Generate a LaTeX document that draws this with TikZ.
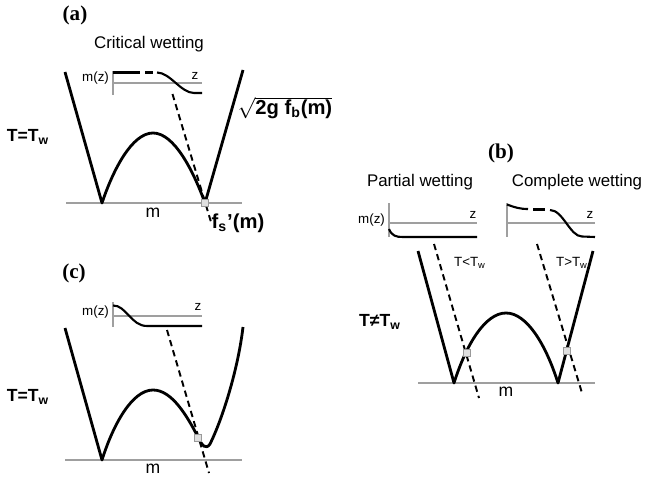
\documentclass[tikz,border=0pt]{standalone}
\usepackage{fontspec}
\setmainfont{Liberation Sans}
\newfontfamily\panelfont{Liberation Serif}
\usepackage{tikz}

\tikzset{
    potential/.style={line width=1.6pt, line join=round},
    tangent/.style={line width=1.1pt, dash pattern=on 3.6pt off 2.4pt},
    mline/.style={gray!75, line width=0.7pt},
    inaxis/.style={gray!75, line width=0.7pt},
    profile/.style={line width=1.2pt},
    contact/.style={draw=gray!80, fill=gray!25, line width=0.3pt, inner sep=0pt, minimum size=4.2pt},
    panellab/.style={font=\panelfont\bfseries\fontsize{12}{14}\selectfont},
    title/.style={font=\fontsize{9.6}{11}\selectfont},
    small/.style={font=\fontsize{7.6}{9}\selectfont, inner sep=1pt},
    temp/.style={font=\bfseries\fontsize{10}{12}\selectfont},
    big/.style={font=\bfseries\fontsize{11.5}{13}\selectfont},
    mlab/.style={font=\fontsize{10}{12}\selectfont},
}

\begin{document}
\begin{tikzpicture}[x=0.02cm, y=-0.02cm]

    \useasboundingbox (0,0) rectangle (649,483);

    % ---------------- (a) critical wetting ----------------
    \node[panellab] (lab-a) at (75,15) {(a)};
    \node[title] (title-a) at (149,44) {Critical wetting};
    \node[temp] (tw-a) at (28,137) {T=T\textsubscript{w}};

    % inset profile m(z)
    \draw[inaxis] (113,71) -- (113,95);
    \draw[inaxis] (113,83) -- (202,83);
    \node[small, left] (mz-a) at (111,78) {m(z)};
    \node[small] (z-a) at (195,76) {z};
    \draw[profile] (113,72.5) -- (140,72.5);
    \draw[profile] (145,72.5) -- (153,72.5);
    \draw[profile] (157,72.5) .. controls (170,72.5) and (181,93) .. (194,93) -- (202,93);

    % m axis
    \draw[mline] (66,203) -- (242,203);
    \node[mlab] (m-a) at (153,213) {m};

    % potential
    \draw[potential] (65,72) -- (102,203)
        .. controls (113,170) and (132,133) .. (153,133)
        .. controls (174,133) and (193,170) .. (205,203) -- (243,70);

    % tangent line and contact point
    \coordinate (ta-top) at (172.5,94);
    \coordinate (ta-bot) at (211,222);
    \draw[tangent] (ta-top) -- (ta-bot);
    \node[contact] (x-a) at (205,203) {};

    \node[big] (root-a) at (285,108) {$\sqrt{\mbox{2g f\textsubscript{b}(m)}}$};
    \node[big] (fs-a) at (238,223) {f\textsubscript{s}'(m)};

    % ---------------- (c) ----------------
    \node[panellab] (lab-c) at (74,273) {(c)};
    \node[temp] (tw-c) at (28,397) {T=T\textsubscript{w}};

    % inset profile m(z)
    \draw[inaxis] (113,302) -- (113,327);
    \draw[inaxis] (113,316) -- (202,316);
    \node[small, left] (mz-c) at (111,312) {m(z)};
    \node[small] (z-c) at (198,307) {z};
    \draw[profile] (113,305.5) .. controls (126,305) and (131,326) .. (147,326) -- (202,326);

    % m axis
    \draw[mline] (65,460) -- (242,460);
    \node[mlab] (m-c) at (153,469) {m};

    % potential
    \draw[potential] (65,328) -- (102,460)
        .. controls (113,425) and (132,390) .. (153,390)
        .. controls (172,390) and (187,416) .. (198,437)
        .. controls (202,446) and (206,450) .. (210,444)
        .. controls (222,420) and (238,370) .. (243,327);

    % tangent line and contact point
    \coordinate (tc-top) at (167,330);
    \coordinate (tc-bot) at (209,473);
    \draw[tangent] (tc-top) -- (tc-bot);
    \node[contact] (x-c) at (198,438) {};

    % ---------------- (b) ----------------
    \node[panellab] (lab-b) at (501,153) {(b)};
    \node[title] (title-bl) at (420,182) {Partial wetting};
    \node[title] (title-br) at (577,182) {Complete wetting};
    \node[temp] (tw-b) at (380,322) {T≠T\textsubscript{w}};

    % inset profile, partial wetting
    \draw[inaxis] (389,203) -- (389,237);
    \draw[inaxis] (389,223) -- (477,223);
    \node[small, left] (mz-b) at (387,220) {m(z)};
    \node[small] (z-bl) at (473,215) {z};
    \draw[profile] (389,229) .. controls (392,236) and (396,237) .. (403,237) -- (477,237);

    % inset profile, complete wetting
    \draw[inaxis] (507,203) -- (507,237);
    \draw[inaxis] (507,223) -- (595,223);
    \node[small] (z-br) at (590,215) {z};
    \draw[profile] (507,204.5) .. controls (515,207.5) and (520,209) .. (528,209);
    \draw[profile] (533,209.5) -- (545,209.5);
    \draw[profile] (550,210) .. controls (563,210) and (570,236.5) .. (582,236.5) -- (595,237);

    % m axis
    \draw[mline] (418,383) -- (595,383);
    \node[mlab] (m-b) at (506,392) {m};

    % potential
    \draw[potential] (418,251) -- (454,383)
        .. controls (466,345) and (485,313) .. (506,313)
        .. controls (527,313) and (546,345) .. (558,383) -- (593,251);

    % tangent lines and contact points
    \coordinate (tl-top) at (434,244);
    \coordinate (tl-bot) at (479,398);
    \coordinate (tr-top) at (537,244);
    \coordinate (tr-bot) at (582,393);
    \draw[tangent] (tl-top) -- (tl-bot);
    \draw[tangent] (tr-top) -- (tr-bot);
    \node[contact] (x-bl) at (467,353) {};
    \node[contact] (x-br) at (567,351) {};

    \node[small] (lt-b) at (470,263) {T<T\textsubscript{w}};
    \node[small] (gt-b) at (572,263) {T>T\textsubscript{w}};

\end{tikzpicture}
\end{document}
